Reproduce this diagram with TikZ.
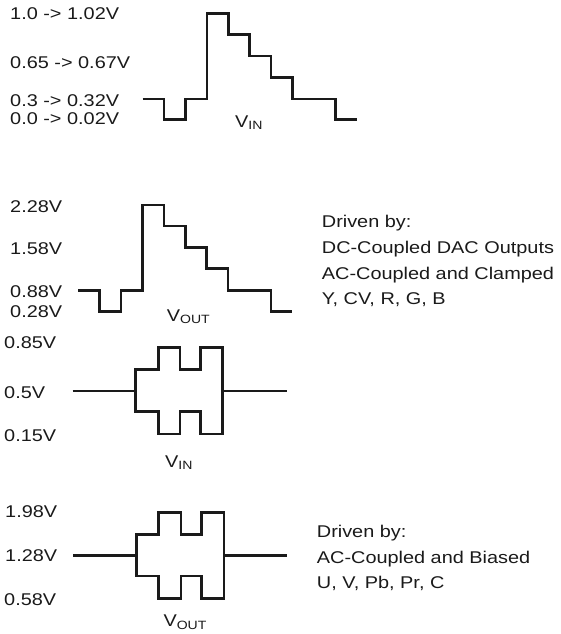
\documentclass[tikz,border=0pt]{standalone}
\usepackage{fontspec}
\setmainfont{Liberation Sans}
\usepackage{graphicx}
\definecolor{ink}{HTML}{1A1A1A}
\newcommand{\wx}[1]{\scalebox{1.17}[1]{#1}}
\newcommand{\sub}[1]{\raisebox{-2.5pt}{\fontsize{12}{12}\selectfont #1}}
\begin{document}
\begin{tikzpicture}[x=1pt,y=-1pt,
  lbl/.style={font=\fontsize{17}{20}\selectfont, text=ink, inner sep=0pt, anchor=base west},
  wave/.style={draw=ink, line width=2.6pt, line join=miter, line cap=butt}]
\useasboundingbox (0,0) rectangle (560,634);

% ---------- waveform 1 : V_IN staircase ----------
\node[lbl] (l1a) at (10,19.4) {\wx{1.0 -> 1.02V}};
\node[lbl] (l1b) at (10,68.4) {\wx{0.65 -> 0.67V}};
\node[lbl] (l1c) at (10,106) {\wx{0.3 -> 0.32V}};
\node[lbl] (l1d) at (10,124.5) {\wx{0.0 -> 0.02V}};
\draw[wave] (142.7,99) -- (164.1,99) -- (164.1,119.5) -- (185.5,119.5) -- (185.5,99)
  -- (206.9,99) -- (206.9,13.3) -- (228.3,13.3) -- (228.3,34.3) -- (249.7,34.3)
  -- (249.7,56) -- (271.1,56) -- (271.1,77.5) -- (292.5,77.5) -- (292.5,99)
  -- (335.3,99) -- (335.3,119.5) -- (356.7,119.5);
\node[lbl] (vin1) at (235,127.3) {\wx{V\sub{IN}}};

% ---------- waveform 2 : V_OUT staircase ----------
\node[lbl] (l2a) at (10,212.8) {\wx{2.28V}};
\node[lbl] (l2b) at (10,254.4) {\wx{1.58V}};
\node[lbl] (l2c) at (10,297.8) {\wx{0.88V}};
\node[lbl] (l2d) at (10,317.5) {\wx{0.28V}};
\draw[wave] (78.3,290.7) -- (99.7,290.7) -- (99.7,311.7) -- (121.1,311.7) -- (121.1,290.7)
  -- (142.5,290.7) -- (142.5,205) -- (163.9,205) -- (163.9,226) -- (185.3,226)
  -- (185.3,247.3) -- (206.7,247.3) -- (206.7,268.5) -- (228.1,268.5) -- (228.1,290.7)
  -- (270.9,290.7) -- (270.9,311.7) -- (292.3,311.7);
\node[lbl] (vout2) at (166.7,321) {\wx{V\sub{OUT}}};

\node[lbl] (d1a) at (321.7,227.6) {\wx{Driven by:}};
\node[lbl] (d1b) at (321.7,253.6) {\wx{DC-Coupled DAC Outputs}};
\node[lbl] (d1c) at (321.7,279) {\wx{AC-Coupled and Clamped}};
\node[lbl] (d1d) at (321.7,304.2) {\wx{Y, CV, R, G, B}};

% ---------- waveform 3 : V_IN bipolar ----------
\node[lbl] (l3a) at (4,348) {\wx{0.85V}};
\node[lbl] (l3b) at (4,398) {\wx{0.5V}};
\node[lbl] (l3c) at (4,441.5) {\wx{0.15V}};
\draw[wave] (72.7,391) -- (135.7,391);
\draw[wave] (222.3,391) -- (286.7,391);
\draw[wave] (135.7,369.3) -- (158.3,369.3) -- (158.3,347.3) -- (180,347.3) -- (180,369.3)
  -- (200.7,369.3) -- (200.7,347.3) -- (222.3,347.3) -- (222.3,434) -- (200.7,434)
  -- (200.7,411.7) -- (180,411.7) -- (180,434) -- (158.3,434) -- (158.3,411.7)
  -- (135.7,411.7) -- cycle;
\node[lbl] (vin3) at (165,467) {\wx{V\sub{IN}}};

% ---------- waveform 4 : V_OUT bipolar ----------
\node[lbl] (l4a) at (5,517.8) {\wx{1.98V}};
\node[lbl] (l4b) at (5,561.8) {\wx{1.28V}};
\node[lbl] (l4c) at (4,605) {\wx{0.58V}};
\draw[wave] (73.3,555.7) -- (136.7,555.7);
\draw[wave] (224,555.7) -- (287.3,555.7);
\draw[wave] (136.7,534.3) -- (158.3,534.3) -- (158.3,512.3) -- (181,512.3) -- (181,534.3)
  -- (201.7,534.3) -- (201.7,512.3) -- (224,512.3) -- (224,598.3) -- (201.7,598.3)
  -- (201.7,576) -- (181,576) -- (181,598.3) -- (158.3,598.3) -- (158.3,576)
  -- (136.7,576) -- cycle;
\node[lbl] (vout4) at (163.3,626.7) {\wx{V\sub{OUT}}};

\node[lbl] (d2a) at (316.7,537.3) {\wx{Driven by:}};
\node[lbl] (d2b) at (316.7,563.3) {\wx{AC-Coupled and Biased}};
\node[lbl] (d2c) at (316.7,588.3) {\wx{U, V, Pb, Pr, C}};
\end{tikzpicture}
\end{document}
